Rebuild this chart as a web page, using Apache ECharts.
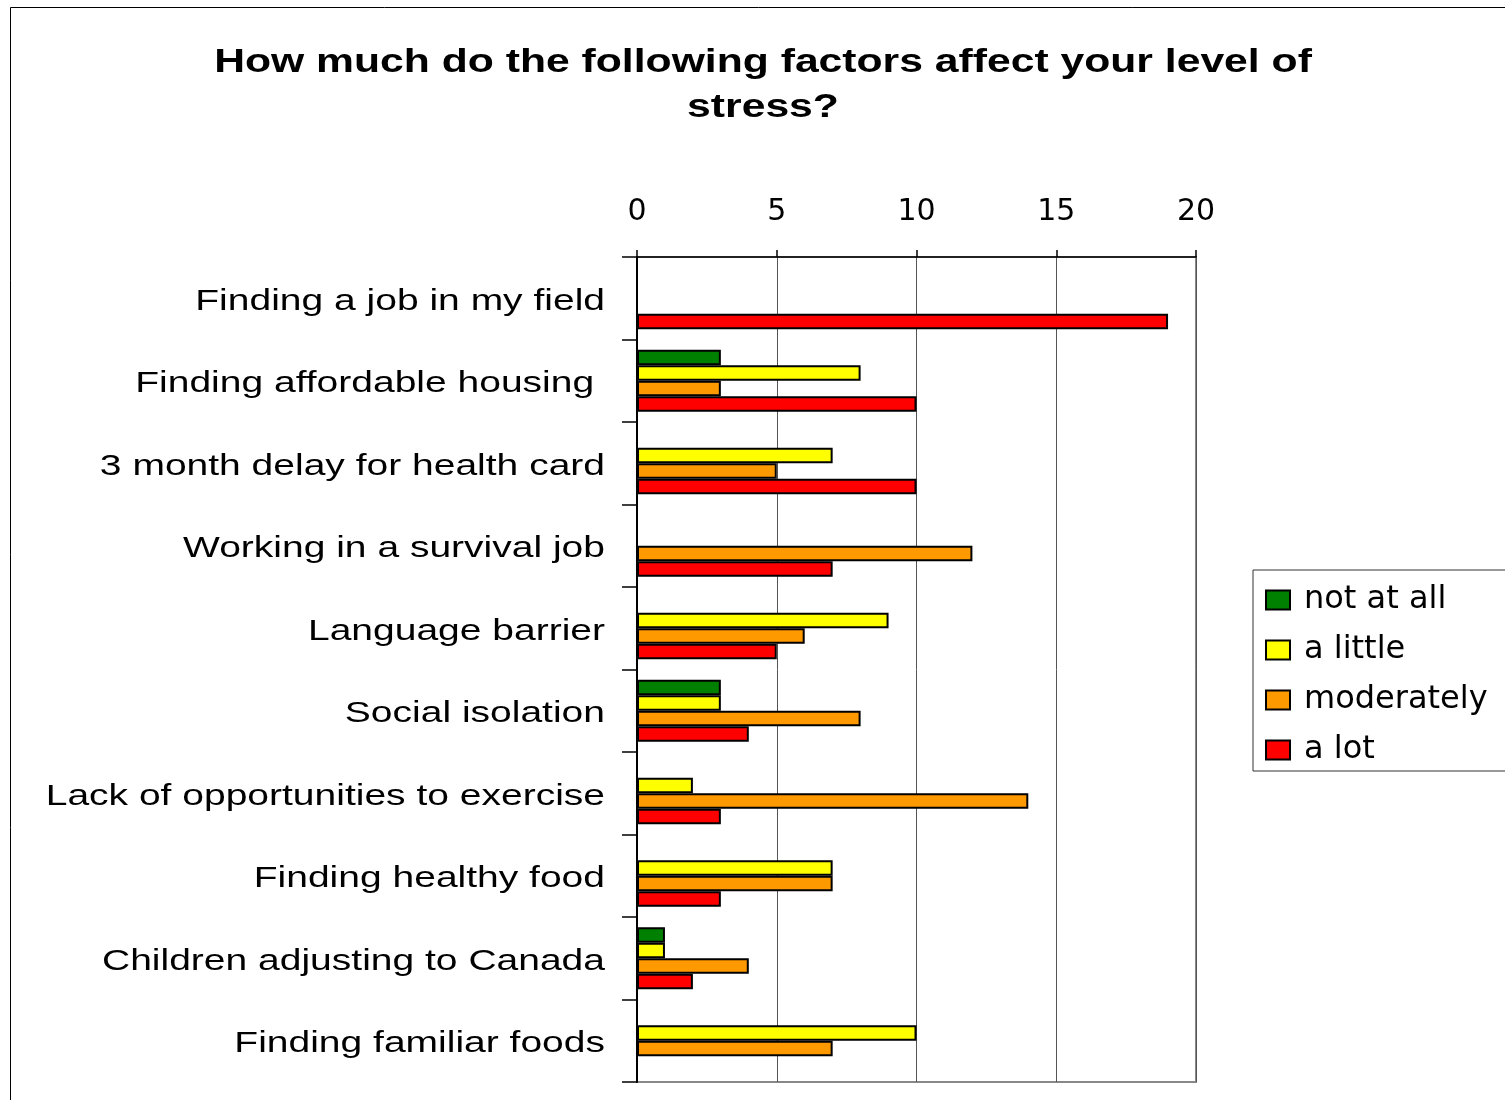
<!DOCTYPE html>
<html>
<head>
<meta charset="utf-8">
<script src="https://cdn.jsdelivr.net/npm/echarts@6/dist/echarts.min.js"></script>
<style>html,body{margin:0;padding:0;background:#fff}#c{width:1505px;height:1100px}</style>
</head>
<body>
<div id="c"></div>
<script>
const categories = [
  'Finding a job in my field',
  'Finding affordable housing ',
  '3 month delay for health card',
  'Working in a survival job',
  'Language barrier',
  'Social isolation',
  'Lack of opportunities to exercise',
  'Finding healthy food',
  'Children adjusting to Canada',
  'Finding familiar foods'
];
const notAtAll   = [0, 3, 0, 0, 0, 3, 0, 0, 1, 0];
const aLittle    = [0, 8, 7, 0, 9, 3, 2, 7, 1, 10];
const moderately = [0, 3, 5, 12, 6, 8, 14, 7, 4, 7];
const aLot       = [19, 10, 10, 7, 5, 4, 3, 3, 2, 0];
const xTicks = [0, 5, 10, 15, 20];
const titleLines = ['How much do the following factors affect your level of', 'stress?'];

const seriesDefs = [
  { name: 'not at all', data: notAtAll, color: '#008000' },
  { name: 'a little', data: aLittle, color: '#FFFF00' },
  { name: 'moderately', data: moderately, color: '#FF9900' },
  { name: 'a lot', data: aLot, color: '#FF0000' }
];

const FONT = '"Liberation Sans", Arial, sans-serif';
const WIDE = '"DejaVu Sans", sans-serif';
const LABEL_STRETCH = 1.30;
const TITLE_STRETCH = 1.255;

const chart = echarts.init(document.getElementById('c'));
chart.setOption({
  animation: false,
  backgroundColor: '#fff',
  textStyle: { fontFamily: FONT },
  graphic: [
    { type: 'rect', shape: { x: 10.5, y: 7.5, width: 1600, height: 1200 },
      style: { fill: 'none', stroke: '#000', lineWidth: 1 }, silent: true, z: -1 },
    { type: 'text', x: 763, y: 63, scaleX: TITLE_STRETCH, silent: true,
      style: { text: titleLines[0], font: 'bold 34px ' + FONT, fill: '#000',
        textAlign: 'center', textVerticalAlign: 'middle' } },
    { type: 'text', x: 763, y: 108, scaleX: TITLE_STRETCH, silent: true,
      style: { text: titleLines[1], font: 'bold 34px ' + FONT, fill: '#000',
        textAlign: 'center', textVerticalAlign: 'middle' } }
  ],
  legend: {
    orient: 'vertical', left: 1253, top: 570,
    padding: [14, 30, 5, 12], itemGap: 18,
    itemWidth: 24, itemHeight: 19, icon: 'rect',
    backgroundColor: '#fff', borderColor: '#333', borderWidth: 1,
    textStyle: { fontSize: 32, color: '#000', fontFamily: WIDE, padding: [0, 0, 0, 9] },
    data: seriesDefs.map(s => s.name)
  },
  grid: {
    left: 637, right: 309, top: 257, bottom: 18,
    show: true, borderColor: '#888', borderWidth: 2, containLabel: false
  },
  xAxis: {
    type: 'value', position: 'top', min: 0, max: 20, interval: 5,
    axisLine: { show: true, lineStyle: { color: '#000', width: 1.5 } },
    axisTick: { show: true, length: 7, inside: false, lineStyle: { color: '#000', width: 1.5 } },
    axisLabel: { fontSize: 30, color: '#000', margin: 30, fontFamily: WIDE,
      formatter: v => xTicks.includes(v) ? String(v) : '' },
    splitLine: { show: true, lineStyle: { color: '#555', width: 1 } }
  },
  yAxis: {
    type: 'category', inverse: true, data: categories,
    axisLine: { show: true, lineStyle: { color: '#000', width: 2 } },
    axisTick: { show: true, length: 15, lineStyle: { color: '#000', width: 1.5 } },
    axisLabel: { show: false },
    splitLine: { show: false }
  },
  series: seriesDefs.map(s => ({
    type: 'bar', name: s.name,
    data: s.data.map(v => v === 0 ? '-' : v),
    barGap: '0%', barCategoryGap: '25%',
    itemStyle: { color: s.color, borderColor: '#000', borderWidth: 2 }
  })).concat([{
    type: 'custom', name: 'category labels', silent: true, clip: false, z: 10,
    data: categories.map((c, i) => [0, i]),
    encode: { x: 0, y: 1 },
    renderItem: (params, api) => {
      const p = api.coord([0, api.value(1)]);
      return {
        type: 'text', x: p[0] - 32, y: p[1] + 3, scaleX: LABEL_STRETCH,
        style: { text: categories[params.dataIndex], font: '30px ' + FONT, fill: '#000',
          textAlign: 'right', textVerticalAlign: 'middle' }
      };
    }
  }])
});
</script>
</body>
</html>
